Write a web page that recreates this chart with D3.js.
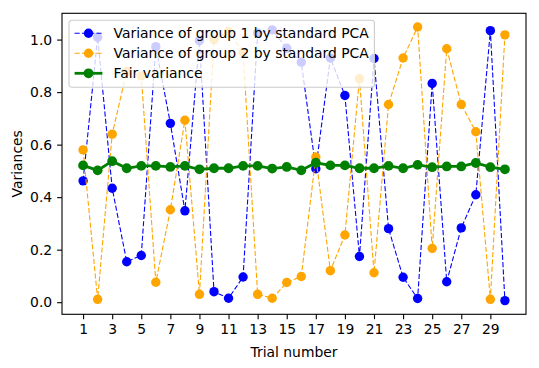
<!DOCTYPE html>
<head>
<meta charset="utf-8">
<title>Variances per trial</title>
<script src="https://cdn.jsdelivr.net/npm/d3@7"></script>
<style>
body { margin: 0; background: #fff; }
text { font-family: "DejaVu Sans", sans-serif; fill: #000; }
</style>
</head>
<body>
<script>
// data
var trials = [1,2,3,4,5,6,7,8,9,10,11,12,13,14,15,16,17,18,19,20,21,22,23,24,25,26,27,28,29,30];
var xTicks = [1,3,5,7,9,11,13,15,17,19,21,23,25,27,29];
var yTicks = [0.0,0.2,0.4,0.6,0.8,1.0];
var group1 = [0.462,1.009,0.434,0.154,0.178,0.973,0.681,0.348,0.996,0.040,
              0.015,0.096,1.025,1.037,0.967,0.914,0.508,0.930,0.787,0.174,
              0.928,0.280,0.095,0.014,0.833,0.078,0.283,0.409,1.034,0.006];
var group2 = [0.580,0.011,0.640,0.879,0.862,0.076,0.352,0.693,0.030,1.000,
              1.031,0.952,0.030,0.015,0.075,0.098,0.553,0.120,0.256,0.851,
              0.112,0.753,0.930,1.048,0.205,0.965,0.753,0.649,0.011,1.018];
var fair   = [0.521,0.502,0.537,0.510,0.519,0.519,0.515,0.519,0.506,0.510,
              0.510,0.519,0.519,0.509,0.515,0.502,0.531,0.521,0.521,0.510,
              0.510,0.519,0.510,0.523,0.514,0.517,0.517,0.530,0.514,0.506];
var labels = ["Variance of group 1 by standard PCA", "Variance of group 2 by standard PCA", "Fair variance"];

var width = 539, height = 368;
var mLeft = 62, mTop = 13.3, w = 464, h = 301;
var fs = 13.9;

var svg = d3.select("body").append("svg")
  .attr("width", width)
  .attr("height", height);

// 5% margins like matplotlib
var xs = d3.scaleLinear().domain([1 - 29*0.05, 30 + 29*0.05]).range([mLeft, mLeft + w]);
var all = group1.concat(group2, fair);
var lo = d3.min(all), hi = d3.max(all), m = (hi - lo) * 0.05;
var ys = d3.scaleLinear().domain([lo - m, hi + m]).range([mTop + h, mTop]);

var series = [
  {vals: group1, color: "#0000ff", lw: 1.1, dash: "5.1,2.2", r: 4.7},
  {vals: group2, color: "#ffa500", lw: 1.1, dash: "5.1,2.2", r: 4.7},
  {vals: fair,   color: "#008000", lw: 2.8, dash: null, r: 4.9}
];

var plot = svg.append("g");
var line = d3.line().x(function(d,i) {return xs(trials[i]);}).y(function(d) {return ys(d);});

series.forEach(function(s) {
  plot.append("path")
    .attr("d", line(s.vals))
    .attr("fill", "none")
    .attr("stroke", s.color)
    .attr("stroke-width", s.lw)
    .attr("stroke-dasharray", s.dash);
  plot.selectAll(null)
    .data(s.vals).enter().append("circle")
    .attr("cx", function(d,i) {return xs(trials[i]);})
    .attr("cy", function(d) {return ys(d);})
    .attr("r", s.r)
    .attr("fill", s.color);
});

// axes
var xAxis = d3.axisBottom(xs).tickValues(xTicks).tickSize(4.9).tickPadding(4.9).tickFormat(d3.format("d"));
var yAxis = d3.axisLeft(ys).tickValues(yTicks).tickSize(4.9).tickPadding(4.9).tickFormat(d3.format(".1f"));

var gx = svg.append("g").attr("transform", "translate(0," + (mTop + h) + ")").call(xAxis);
var gy = svg.append("g").attr("transform", "translate(" + mLeft + ",0)").call(yAxis);
[gx, gy].forEach(function(g) {
  g.select(".domain").remove();
  g.selectAll("line").attr("stroke", "#000").attr("stroke-width", 1.1);
  g.selectAll("text").attr("font-size", fs).attr("font-family", "DejaVu Sans").attr("fill", "#000");
});

svg.append("rect")
  .attr("x", mLeft).attr("y", mTop).attr("width", w).attr("height", h)
  .attr("fill", "none").attr("stroke", "#000").attr("stroke-width", 1.1);

svg.append("text")
  .attr("x", mLeft + w/2).attr("y", 357)
  .attr("text-anchor", "middle").attr("font-size", fs)
  .text("Trial number");
svg.append("text")
  .attr("transform", "translate(22," + (mTop + h/2) + ") rotate(-90)")
  .attr("text-anchor", "middle").attr("font-size", fs)
  .text("Variances");

// legend
var lg = svg.append("g").attr("transform", "translate(" + (mLeft + 7) + "," + (mTop + 7) + ")");
var box = lg.append("rect")
  .attr("rx", 2.8).attr("ry", 2.8)
  .attr("fill", "#fff").attr("fill-opacity", 0.8)
  .attr("stroke", "#cccccc").attr("stroke-width", 1.1);
var maxw = 0;
labels.forEach(function(t, i) {
  var s = series[i];
  var cy = 13 + i * 20;
  lg.append("line")
    .attr("x1", 5.6).attr("x2", 5.6 + 27.8).attr("y1", cy).attr("y2", cy)
    .attr("stroke", s.color).attr("stroke-width", s.lw).attr("stroke-dasharray", s.dash);
  lg.append("circle").attr("cx", 5.6 + 13.9).attr("cy", cy).attr("r", s.r).attr("fill", s.color);
  var tx = lg.append("text")
    .attr("x", 5.6 + 27.8 + 11.1).attr("y", cy + 5)
    .attr("font-size", fs)
    .text(t);
  maxw = Math.max(maxw, tx.node().getComputedTextLength());
});
box.attr("x", 0).attr("y", 0).attr("width", 5.6 + 27.8 + 11.1 + maxw + 5.6).attr("height", 67);
</script>
</body>
